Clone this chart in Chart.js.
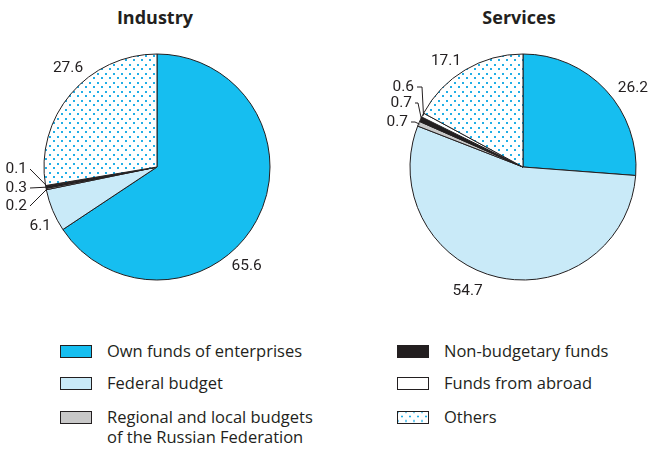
<!DOCTYPE html>
<html>
<head>
<meta charset="utf-8">
<script src="https://cdn.jsdelivr.net/npm/chart.js@4.4.1/dist/chart.umd.min.js"></script>
<style>
  html, body { margin: 0; padding: 0; background: #fff; }
  body { width: 649px; height: 451px; position: relative; overflow: hidden; font-family: "Open Sans", sans-serif; color: #231F20; }
  .title { position: absolute; top: 5px; font-weight: bold; font-size: 18px; width: 200px; text-align: center; }
  canvas { position: absolute; }
  .lg { position: absolute; font-size: 16.5px; line-height: 20px; }
  .sw { position: absolute; width: 30px; height: 11px; border: 1px solid #231F20; }
</style>
</head>
<body>
<div class="title" id="t1" style="left:55px;"></div>
<div class="title" id="t2" style="left:419px;"></div>
<div style="position:absolute;left:0;top:0;width:324px;height:310px;"><canvas id="c1"></canvas></div>
<div style="position:absolute;left:325px;top:0;width:324px;height:310px;"><canvas id="c2"></canvas></div>
<div id="legend"></div>
<script>
// ---- data ----
const chartTitles = ["Industry", "Services"];
const categories = ["Own funds of enterprises", "Federal budget", "Regional and local budgets\nof the Russian Federation", "Non-budgetary funds", "Funds from abroad", "Others"];
const industryValues = [65.6, 6.1, 0.2, 0.3, 0.1, 27.6];
const servicesValues = [26.2, 54.7, 0.7, 0.7, 0.6, 17.1];

// ---- styles ----
const INK = "#231F20";
function dotPattern() {
  const c = document.createElement("canvas");
  c.width = 8; c.height = 9;
  const x = c.getContext("2d");
  x.fillStyle = "#fff"; x.fillRect(0, 0, 8, 9);
  x.fillStyle = "#22AEE6";
  x.fillRect(1, 1, 2, 2);
  x.fillRect(5, 5, 2, 2);
  return x.createPattern(c, "repeat");
}
const pat = dotPattern();
const colors = ["#16BEF0", "#C9EAF8", "#C8C8C8", INK, "#FFFFFF", pat];

// label placement (styles): angle in degrees from 3 o'clock clockwise, dist from center
// or leader labels: text right edge at (dx,dy) relative to center, elbow x offset ex
const placements = [
  [ {angle: 48, dist: 134}, {angle: 153, dist: 131},
    {dx: -130, dy: 39, ex: -127}, {dx: -130, dy: 21, ex: -127}, {dx: -130, dy: 2, ex: -127},
    {angle: -132, dist: 133} ],
  [ {angle: -35.5, dist: 135}, {angle: 114, dist: 136},
    {dx: -115, dy: -45, ex: -108}, {dx: -111, dy: -64, ex: -105}, {dx: -109, dy: -80, ex: -101},
    {angle: -126, dist: 131} ]
];

const labelPlugin = {
  id: "outLabels",
  afterDatasetsDraw(chart) {
    const ctx = chart.ctx;
    const meta = chart.getDatasetMeta(0);
    const vals = chart.data.datasets[0].data;
    const pl = chart.options.plugins.outLabels.place;
    ctx.save();
    ctx.font = "15.5px Roboto, sans-serif";
    ctx.fillStyle = INK;
    ctx.strokeStyle = INK;
    ctx.lineWidth = 1;
    meta.data.forEach((arc, i) => {
      const p = pl[i];
      const txt = vals[i].toFixed(1);
      const cx = arc.x, cy = arc.y, r = arc.outerRadius;
      if (p.angle !== undefined) {
        const a = p.angle * Math.PI / 180;
        ctx.textAlign = "center"; ctx.textBaseline = "middle";
        ctx.fillText(txt, cx + Math.cos(a) * p.dist, cy + Math.sin(a) * p.dist);
      } else {
        const mid = (arc.startAngle + arc.endAngle) / 2;
        const tx = cx + p.dx, ty = cy + p.dy;
        ctx.textAlign = "right"; ctx.textBaseline = "middle";
        ctx.fillText(txt, tx, ty);
        ctx.beginPath();
        ctx.moveTo(tx + 3, ty);
        ctx.lineTo(cx + p.ex, ty);
        ctx.lineTo(cx + Math.cos(mid) * (r - 1), cy + Math.sin(mid) * (r - 1));
        ctx.stroke();
      }
    });
    ctx.restore();
  }
};

function makePie(id, values, place, padding) {
  return new Chart(document.getElementById(id), {
    type: "pie",
    data: {
      labels: categories,
      datasets: [{ data: values, backgroundColor: colors, borderColor: INK, borderWidth: 1 }]
    },
    options: {
      responsive: true,
      maintainAspectRatio: false,
      animation: false,
      layout: { padding: padding },
      plugins: { legend: { display: false }, tooltip: { enabled: false }, outLabels: { place: place } }
    },
    plugins: [labelPlugin]
  });
}

document.getElementById("t1").textContent = chartTitles[0];
document.getElementById("t2").textContent = chartTitles[1];
makePie("c1", industryValues, placements[0], {left: 43.5, right: 53.5, top: 53.5, bottom: 29.5});
makePie("c2", servicesValues, placements[1], {left: 84.5, right: 12.5, top: 53.5, bottom: 29.5});

// legend (HTML)
const legendPos = [[60, 345], [60, 377], [60, 411], [397, 345], [397, 377], [397, 411]];
const lg = document.getElementById("legend");
categories.forEach((c, i) => {
  const [x, y] = legendPos[i];
  const sw = document.createElement("div");
  sw.className = "sw";
  sw.style.left = x + "px"; sw.style.top = y + "px";
  if (i === 5) {
    sw.style.background = "radial-gradient(circle, #22AEE6 0.9px, transparent 1.2px) 0 0 / 8px 9px, radial-gradient(circle, #22AEE6 0.9px, transparent 1.2px) 4px 4.5px / 8px 9px, #fff";
  } else {
    sw.style.background = colors[i];
  }
  lg.appendChild(sw);
  const t = document.createElement("div");
  t.className = "lg";
  t.style.left = (x + 47) + "px"; t.style.top = (y - 4) + "px";
  t.innerHTML = c.replace("\n", "<br>");
  lg.appendChild(t);
});
</script>
</body>
</html>
